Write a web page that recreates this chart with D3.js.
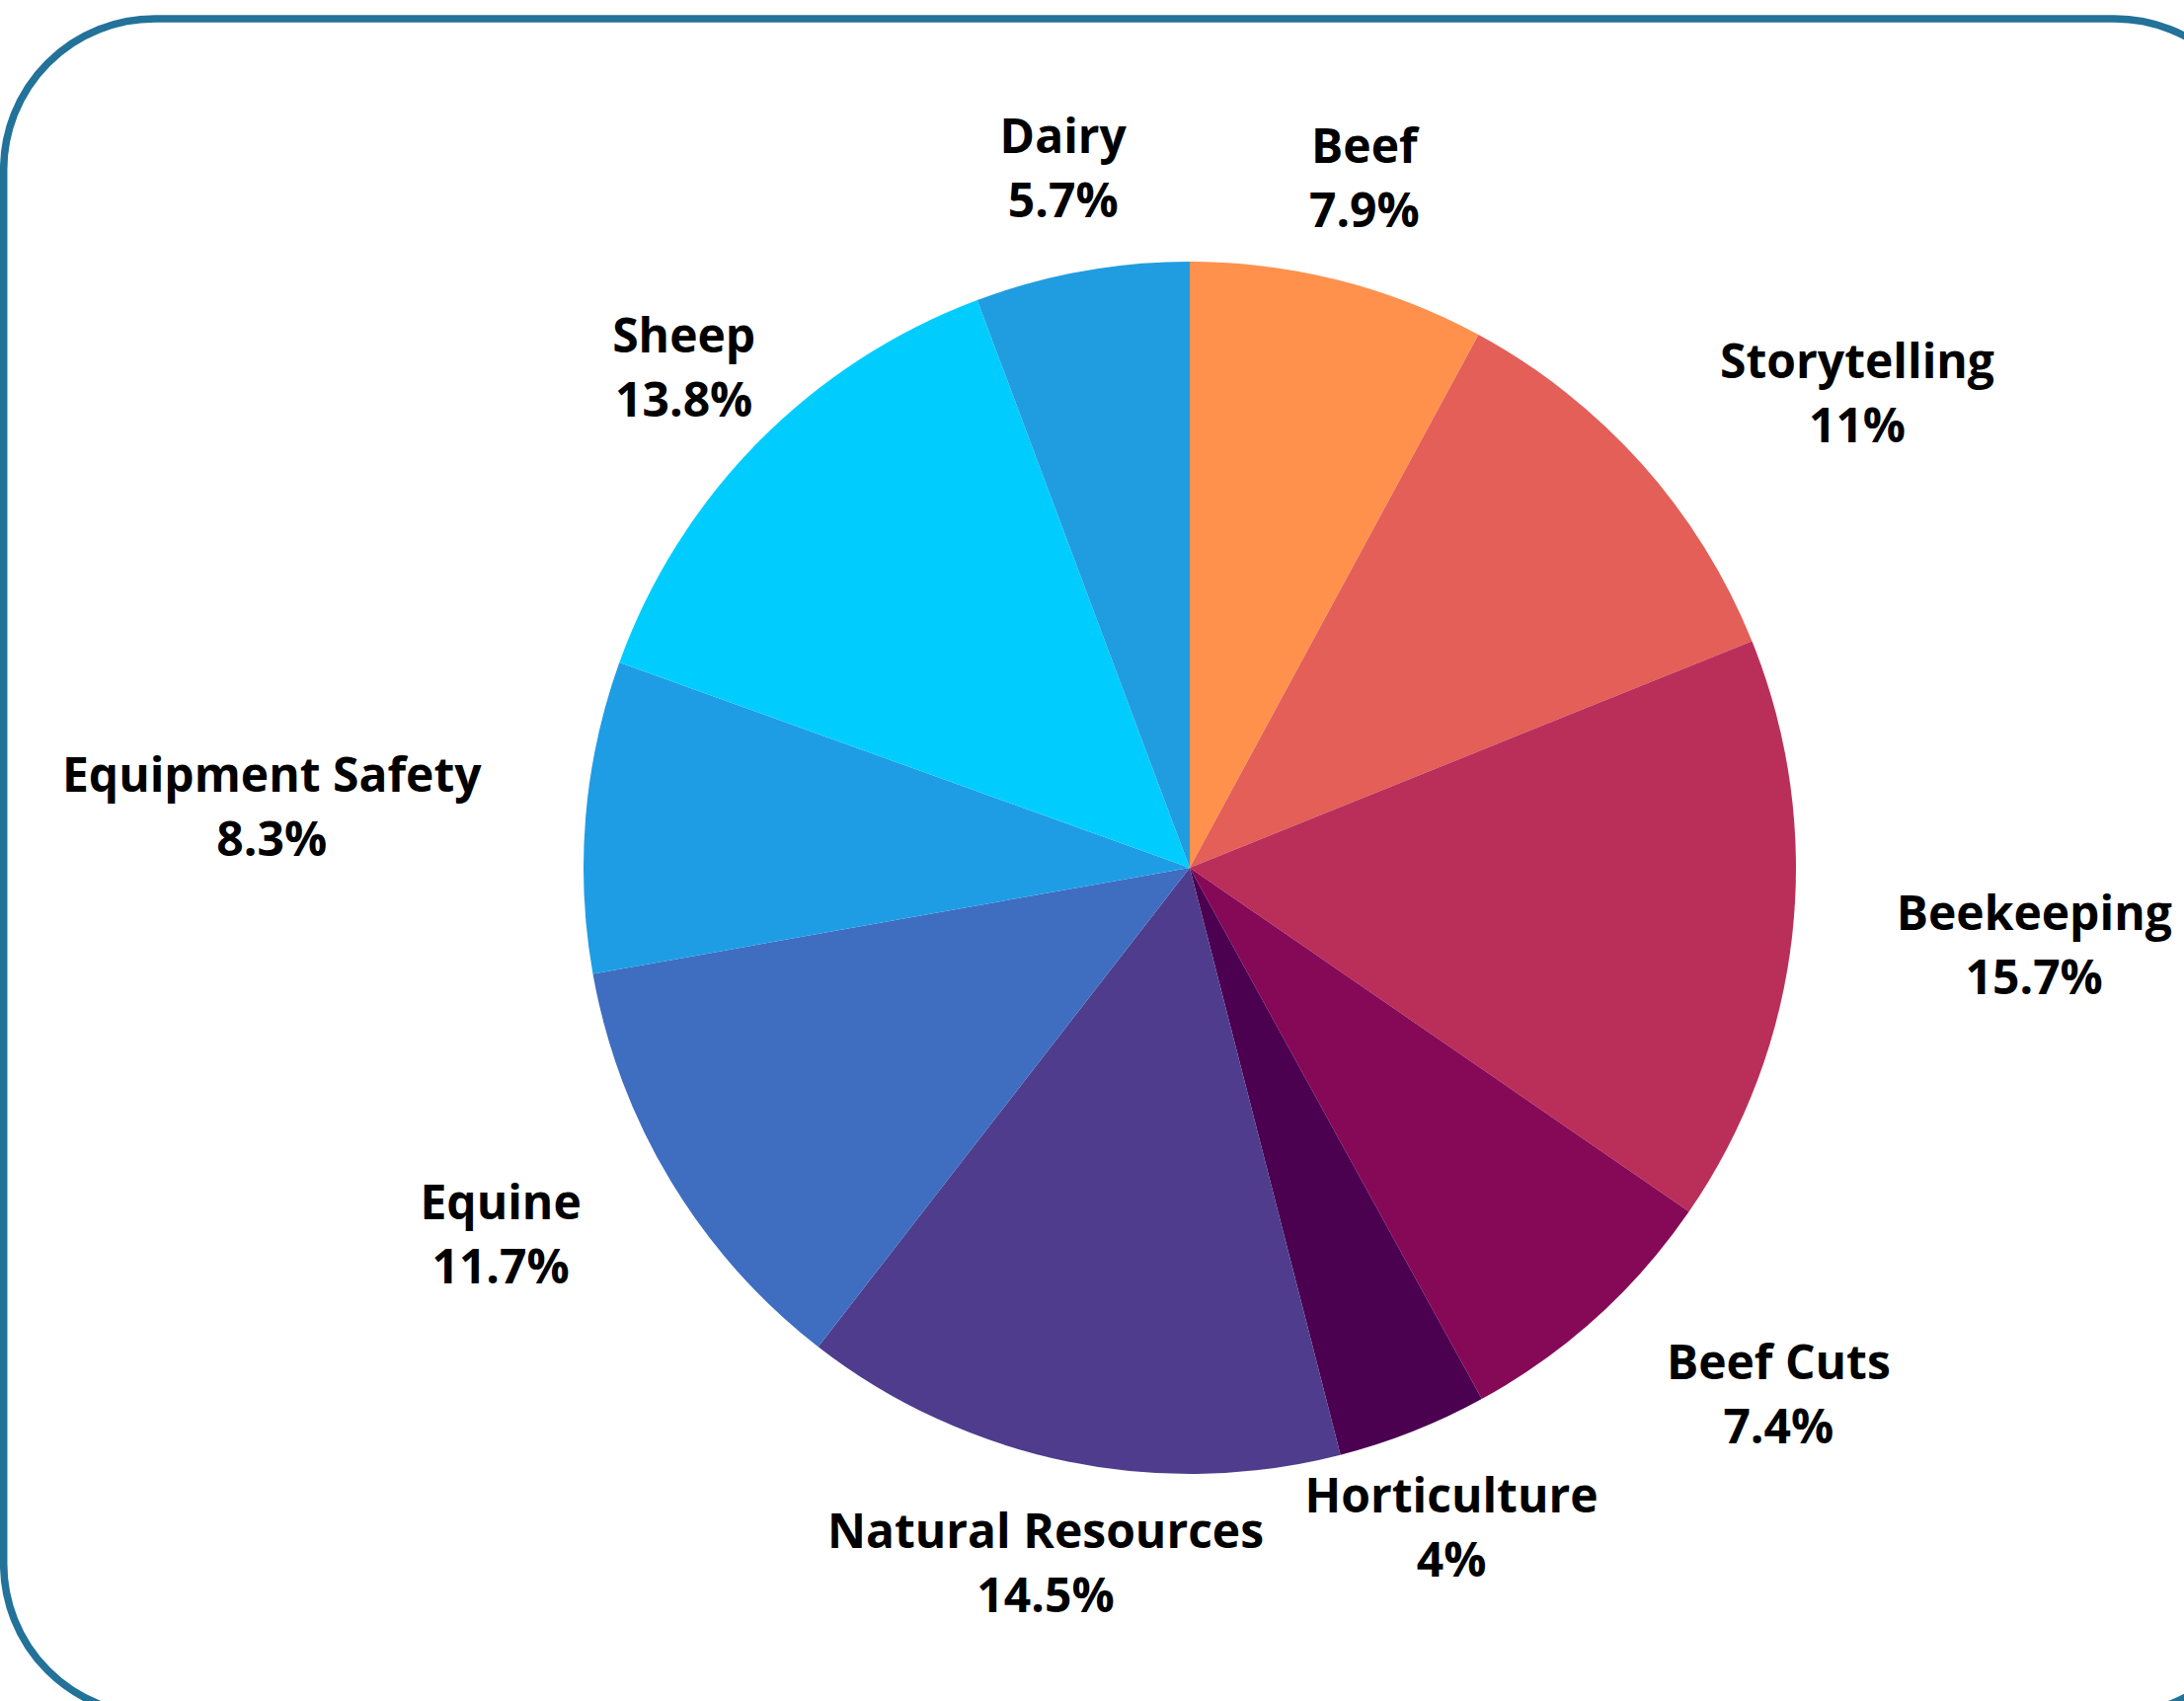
<!DOCTYPE html>
<html>
<head>
<meta charset="utf-8">
<script src="https://cdn.jsdelivr.net/npm/d3@7"></script>
<style>
  body { margin: 0; background: #fff; }
  svg { display: block; }
</style>
</head>
<body>
<svg id="pie"></svg>
<script>
// data
const categories = ["Beef", "Storytelling", "Beekeeping", "Beef Cuts", "Horticulture",
  "Natural Resources", "Equine", "Equipment Safety", "Sheep", "Dairy"];
const shares = [7.9, 11, 15.7, 7.4, 4, 14.5, 11.7, 8.3, 13.8, 5.7];
const sliceColors = ["#ff914d", "#e35f58", "#ba2f5a", "#860957", "#4b0050",
  "#4f3c8c", "#3f6dc0", "#1e9de5", "#00cdfe", "#209de0"];

const width = 2212, height = 1723;
const cx = 1205, cy = 879, radius = 614;
const labelRadius = 720;
const fontSize = 48;

const svg = d3.select("#pie")
  .attr("width", width)
  .attr("height", height);

svg.append("rect")
  .attr("width", width)
  .attr("height", height)
  .attr("fill", "#fff");

// rounded frame, partly running off the right and bottom edges
svg.append("rect")
  .attr("x", 3.7)
  .attr("y", 19)
  .attr("width", 2291)
  .attr("height", 1718)
  .attr("rx", 153)
  .attr("fill", "none")
  .attr("stroke", "#22729a")
  .attr("stroke-width", 7.5);

const data = categories.map((c, i) => ({ name: c, value: shares[i] }));

const color = d3.scaleOrdinal()
  .domain(categories)
  .range(sliceColors);

const pie = d3.pie()
  .value(d => d.value)
  .sort(null);

const arc = d3.arc()
  .innerRadius(0)
  .outerRadius(radius);

const arcs = pie(data);

const g = svg.append("g")
  .attr("transform", `translate(${cx},${cy})`);

g.selectAll("path.slice")
  .data(arcs)
  .join("path")
  .attr("class", "slice")
  .attr("d", arc)
  .attr("fill", d => color(d.data.name));

// labels: two lines, centred on a point outside the pie, pushed sideways
// when the centred block would come too close to the pie
const labels = g.selectAll("g.lbl")
  .data(arcs)
  .join("g")
  .attr("class", "lbl");

labels.append("text")
  .attr("class", "name")
  .attr("y", -16)
  .text(d => d.data.name);

labels.append("text")
  .attr("class", "pct")
  .attr("y", 49)
  .text(d => d.data.value + "%");

labels.selectAll("text")
  .attr("text-anchor", "middle")
  .style("font-family", "'Open Sans', sans-serif")
  .style("font-weight", 700)
  .style("font-size", fontSize + "px")
  .attr("fill", "#000");

labels.each(function (d) {
  const a = (d.startAngle + d.endAngle) / 2;
  const px = labelRadius * Math.sin(a);
  const py = -labelRadius * Math.cos(a);
  const grp = d3.select(this);
  const w = Math.max(...grp.selectAll("text").nodes().map(n => n.getComputedTextLength()));
  const pad = 6;
  const top = py - 50 - pad, bottom = py + 49 + pad;
  const left = px - w / 2 - pad, right = px + w / 2 + pad;
  const corners = [[left, top], [left, bottom], [right, top], [right, bottom]];
  const hits = corners.some(([x, y]) => Math.hypot(x, y) < radius + pad);
  let x = px;
  if (hits) x = px > 0 ? px + w / 2 : px - w / 2;
  grp.attr("transform", `translate(${x},${py})`);
});
</script>
</body>
</html>
